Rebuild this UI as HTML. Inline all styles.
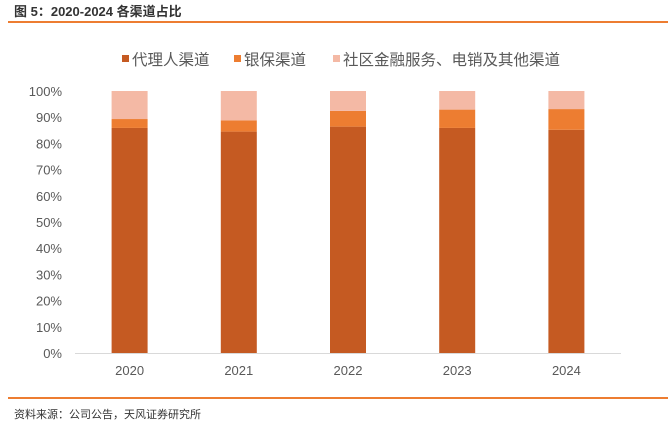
<!DOCTYPE html>
<html><head><meta charset="utf-8"><style>
body{margin:0;width:671px;height:430px;background:#fff;font-family:"Liberation Sans","Noto Sans CJK SC",sans-serif;position:relative;overflow:hidden}
.t{position:absolute;left:14px;top:1px;font-size:13px;font-weight:bold;color:#333}
.hl{position:absolute;left:8px;width:660px;height:2px;background:#ED7D31}
.src{position:absolute;left:14px;top:406px;font-size:11px;color:#333}
</style></head><body>
<div class="t">图 5：2020-2024 各渠道占比</div>
<div class="hl" style="top:21px"></div>
<svg id="c" width="671" height="430" style="position:absolute;left:0;top:0"></svg>
<div class="hl" style="top:397px;height:1.5px"></div>
<div class="src">资料来源：公司公告，天风证券研究所</div>
<script>
const years=["2020","2021","2022","2023","2024"];
const agent=[85.9,84.5,86.4,85.9,85.2];
const banc=[3.4,4.3,6.0,7.0,7.9];
const other=[10.7,11.2,7.6,7.1,6.9];
const ticks=[0,10,20,30,40,50,60,70,80,90,100];
const names=["代理人渠道","银保渠道","社区金融服务、电销及其他渠道"];
const colors=["#C55A22","#ED7D31","#F4B9A5"];
const svg=document.getElementById('c');const NS="http://www.w3.org/2000/svg";
const x0=75,x1=621,yb=353,yt=91;
const y=v=>yb-(yb-yt)*v/100;
const bw=(x1-x0)/years.length;
function mk(t,a,p){const e=document.createElementNS(NS,t);for(const k in a)e.setAttribute(k,a[k]);(p||svg).appendChild(e);return e;}
ticks.forEach(v=>{const e=mk('text',{x:62,y:y(v)+5,'text-anchor':'end','font-size':13,fill:'#595959'});e.textContent=v+'%';

});
const ax=mk('line',{x1:x0,x2:x1,y1:yb+0.5,y2:yb+0.5,stroke:'#d9d9d9'});


const series=[agent,banc,other];
years.forEach((yr,i)=>{const cx=x0+bw*(i+0.5);let acc=0;
series.forEach((s,j)=>{const r=mk('rect',{x:cx-18,width:36,y:y(acc+s[i]),height:y(acc)-y(acc+s[i]),fill:colors[j]});acc+=s[i];

});
const t=mk('text',{x:cx,y:375,'text-anchor':'middle','font-size':13,fill:'#595959'});t.textContent=yr;

});
const lx=[122,234,333];
names.forEach((n,j)=>{const g=mk('g',{});


mk('rect',{x:lx[j],y:55,width:7,height:7,fill:colors[j]},g);
const t=mk('text',{x:lx[j]+10,y:65,'font-size':15.5,fill:'#595959'},g);t.textContent=n;});
</script>
</body></html>
